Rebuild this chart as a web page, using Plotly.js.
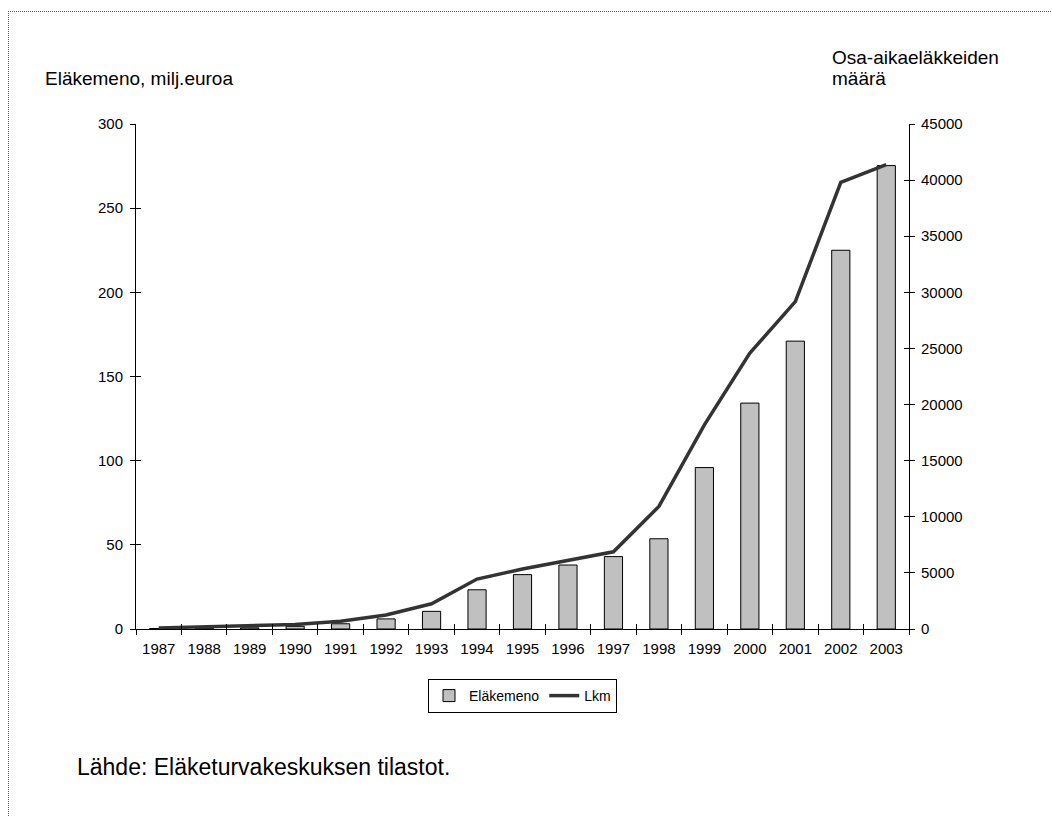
<!DOCTYPE html>
<html>
<head>
<meta charset="utf-8">
<script src="https://cdn.plot.ly/plotly-3.0.1.min.js"></script>
<style>
  html, body { margin: 0; padding: 0; background: #fff; }
  #wrap { position: relative; width: 1052px; height: 816px; overflow: hidden; }
  #chart { width: 1052px; height: 816px; }
  #frame { position: absolute; left: 8px; top: 11px; width: 1200px; height: 1000px;
           border-top: 1px dotted #555; border-left: 1px dotted #555; pointer-events: none; }
</style>
</head>
<body>
<div id="wrap">
  <div id="chart"></div>
  <div id="frame"></div>
</div>
<script>
// ---- data ----
const years = ['1987','1988','1989','1990','1991','1992','1993','1994','1995','1996','1997','1998','1999','2000','2001','2002','2003'];
const elakemeno = [0.3, 0.5, 0.7, 1.6, 3.1, 6.0, 10.5, 23.3, 32.3, 38.0, 43.0, 53.6, 95.9, 134.2, 171.0, 225.0, 275.3];
const lkm = [100, 200, 250, 400, 700, 1250, 2250, 4450, 5340, 6110, 6880, 10920, 18190, 24580, 29170, 39800, 41370];
const leftTitle = 'Eläkemeno, milj.euroa';
const rightTitle1 = 'Osa-aikaeläkkeiden';
const rightTitle2 = 'määrä';
const sourceText = 'Lähde: Eläketurvakeskuksen tilastot.';
const barName = 'Eläkemeno';
const lineName = 'Lkm';

// ---- layout geometry ----
const W = 1052, H = 816;
const L = 136, R = 909, T = 124, B = 629;
const px = x => (x - L) / (R - L);
const py = y => (B - y) / (B - T);

const font = {family: 'Arial, "Liberation Sans", sans-serif', color: '#000'};

const traces = [
  {type: 'bar', x: years, y: elakemeno, name: barName, width: 0.4,
   marker: {color: '#c0c0c0', line: {color: '#000', width: 1}}, xaxis: 'x', yaxis: 'y'},
  {type: 'scatter', mode: 'lines', x: years, y: lkm, name: lineName, yaxis: 'y2', xaxis: 'x',
   line: {color: '#333333', width: 3.5}},
  // helper traces so the inside-tick overlay axes are drawn
  {type: 'scatter', mode: 'lines', x: years, y: years.map(() => null), xaxis: 'x2', yaxis: 'y3',
   showlegend: false, hoverinfo: 'skip'},
  {type: 'scatter', mode: 'lines', x: years, y: years.map(() => null), xaxis: 'x2', yaxis: 'y4',
   showlegend: false, hoverinfo: 'skip'}
];

const axBase = {showline: true, linecolor: '#000', linewidth: 1, ticks: 'outside', ticklen: 5,
  tickcolor: '#000', tickwidth: 1, showgrid: false, zeroline: false,
  tickfont: Object.assign({size: 15}, font)};

const layout = {
  width: W, height: H,
  margin: {l: L, r: W - R, t: T, b: H - B, pad: 0},
  paper_bgcolor: '#fff', plot_bgcolor: '#fff',
  showlegend: true,
  bargap: 0.6,
  xaxis: Object.assign({}, axBase, {type: 'category', categoryorder: 'array', categoryarray: years,
    tickson: 'boundaries', range: [-0.5, years.length - 0.5], anchor: 'y', ticklabelstandoff: 6}),
  xaxis2: Object.assign({}, axBase, {type: 'category', categoryorder: 'array', categoryarray: years,
    tickson: 'boundaries', range: [-0.5, years.length - 0.5], overlaying: 'x', anchor: 'y',
    ticks: 'inside', showticklabels: false, side: 'bottom'}),
  yaxis: Object.assign({}, axBase, {range: [0, 300], dtick: 50, anchor: 'x', ticklabelstandoff: 4}),
  yaxis3: Object.assign({}, axBase, {range: [0, 300], dtick: 50, overlaying: 'y', side: 'left',
    ticks: 'inside', showticklabels: false, anchor: 'x2'}),
  yaxis2: Object.assign({}, axBase, {range: [0, 45000], dtick: 5000, tickformat: 'd',
    overlaying: 'y', side: 'right', anchor: 'x', ticklabelstandoff: 3}),
  yaxis4: Object.assign({}, axBase, {range: [0, 45000], dtick: 5000, overlaying: 'y', side: 'right',
    ticks: 'inside', showticklabels: false, anchor: 'x2'}),
  legend: {orientation: 'h', x: 0.5, xanchor: 'center', y: py(679), yanchor: 'top',
    bordercolor: '#000', borderwidth: 1, bgcolor: '#fff',
    font: Object.assign({size: 14}, font), itemwidth: 30, traceorder: 'normal'},
  annotations: [
    {text: leftTitle, xref: 'paper', yref: 'paper', x: px(43), y: py(79), xanchor: 'left', yanchor: 'middle',
     showarrow: false, font: Object.assign({size: 19}, font)},
    {text: rightTitle1, xref: 'paper', yref: 'paper', x: px(830), y: py(57), xanchor: 'left', yanchor: 'middle',
     showarrow: false, font: Object.assign({size: 19}, font)},
    {text: rightTitle2, xref: 'paper', yref: 'paper', x: px(830), y: py(79), xanchor: 'left', yanchor: 'middle',
     showarrow: false, font: Object.assign({size: 19}, font)},
    {text: sourceText, xref: 'paper', yref: 'paper', x: px(75), y: py(767), xanchor: 'left', yanchor: 'middle',
     showarrow: false, font: Object.assign({size: 23}, font)}
  ]
};

Plotly.newPlot('chart', traces, layout, {displayModeBar: false, staticPlot: true});
</script>
</body>
</html>
